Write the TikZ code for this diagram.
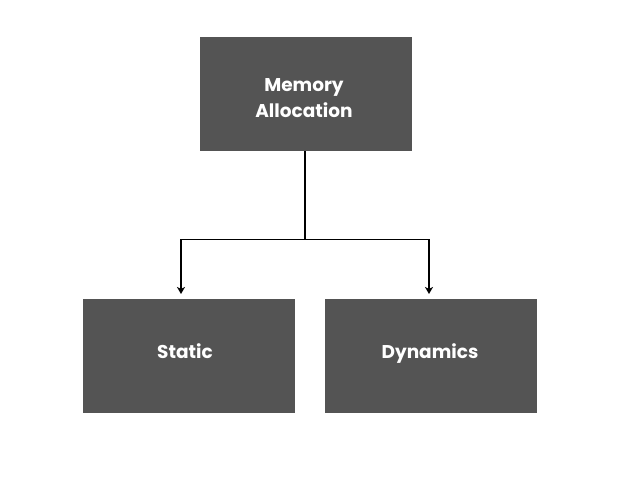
\documentclass[tikz,border=0pt]{standalone}
\usepackage{fontspec}
\setmainfont{Poppins}
\usetikzlibrary{arrows.meta}
\definecolor{boxgray}{HTML}{545454}
\tikzset{
  membox/.style={draw=none, fill=boxgray, minimum width=212pt, minimum height=114pt, inner sep=0pt},
  boxlabel/.style={text=white, font=\fontsize{18.5}{26}\selectfont\bfseries, align=center, inner sep=0pt},
  link/.style={line width=1.8pt, black}
}
\begin{document}
\begin{tikzpicture}[x=1pt, y=-1pt]
  \useasboundingbox[fill=white] (0,0) rectangle (627,498);

  % 1. Cajas
  \node[membox] (alloc) at (306,94) {};
  \node[membox] (static) at (189,356) {};
  \node[membox] (dyn) at (431,356) {};

  % Textos
  \node[boxlabel] (allocText) at (304,98) {Memory\\Allocation};
  \node[boxlabel, anchor=base] (staticText) at (185,358.5) {Static};
  \node[boxlabel, anchor=base] (dynText) at (430,358.5) {Dynamics};

  % 2. Conectores
  \coordinate (split) at (305,239.5);
  \coordinate (tipS) at (181,294);
  \coordinate (tipD) at (429,294);
  \draw[link] (alloc.south -| split) -- (split);
  \draw[link, -{Stealth[length=7pt,width=8pt,inset=2pt]}] (split) -| (tipS);
  \draw[link, -{Stealth[length=7pt,width=8pt,inset=2pt]}] (split) -| (tipD);
\end{tikzpicture}
\end{document}
